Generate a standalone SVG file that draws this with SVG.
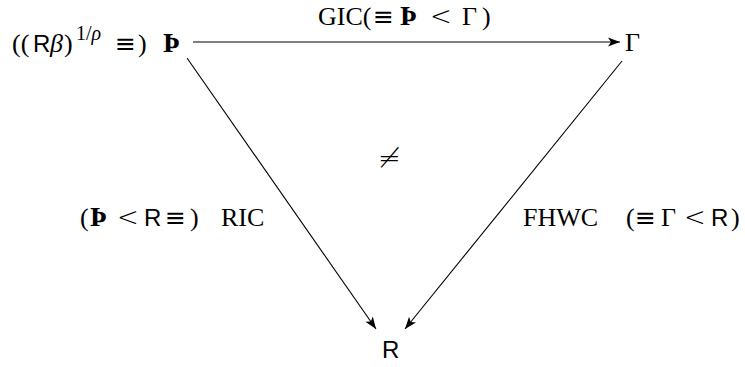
<svg xmlns="http://www.w3.org/2000/svg" width="745" height="367" viewBox="0 0 745 367">
<style>
.s{font-family:"Liberation Serif","DejaVu Serif",serif;font-size:26px;fill:#000}
.ss{font-family:"Liberation Sans","DejaVu Sans",sans-serif;font-size:24px}
.m{font-family:"DejaVu Sans ExtraLight","DejaVu Sans",sans-serif;font-weight:200;font-size:26px}
.e{font-family:"DejaVu Sans",sans-serif;font-size:25px}
.b{font-weight:bold;font-size:28px}
.i{font-style:italic}
.sup{font-size:20px}
.edge{stroke:#000;stroke-width:1.1;fill:none;marker-end:url(#ah)}
</style>
<defs>
<marker id="ah" markerUnits="userSpaceOnUse" markerWidth="16" markerHeight="12" viewBox="-13 -6 14 12" refX="0" refY="0" orient="auto">
<path d="M0,0 L-12,-4.5 L-9,0 L-12,4.5 Z" fill="#000"/>
</marker>
</defs>
<g id="connectors">
<line class="edge" x1="193" y1="42" x2="620" y2="42"/>
<line class="edge" x1="187" y1="58" x2="376" y2="329"/>
<line class="edge" x1="622" y1="61" x2="405" y2="329"/>
</g>
<g id="node-thorn">
<text class="s" y="52"><tspan x="12">((</tspan><tspan class="ss" x="33">R</tspan><tspan class="i" x="50">β</tspan><tspan x="64">)</tspan><tspan class="sup" x="76" dy="-12">1/</tspan><tspan class="sup i">ρ</tspan><tspan class="e" x="115" dy="12">≡</tspan><tspan x="138">)</tspan></text>
<text class="s b" x="163" y="52">Þ</text>
</g>
<g id="node-gamma">
<text class="s" x="625" y="51">Γ</text>
</g>
<g id="node-r">
<text class="s ss" x="382" y="358">R</text>
</g>
<g id="label-gic">
<text class="s" y="25"><tspan x="318">GIC(</tspan><tspan class="e" x="373">≡</tspan><tspan class="b" x="400">Þ</tspan><tspan class="m" x="430">&lt;</tspan><tspan x="462">Γ</tspan><tspan x="482">)</tspan></text>
</g>
<g id="label-ric">
<text class="s" y="226"><tspan x="80">(</tspan><tspan class="b" x="90">Þ</tspan><tspan class="m" x="117">&lt;</tspan><tspan class="ss" x="144">R</tspan><tspan class="e" x="165">≡</tspan><tspan x="190">)</tspan><tspan x="221">RIC</tspan></text>
</g>
<g id="label-fhwc">
<text class="s" x="523" y="226"><tspan>FHWC</tspan><tspan x="626">(</tspan><tspan class="e" x="635">≡</tspan><tspan x="661">Γ</tspan><tspan class="m" x="684">&lt;</tspan><tspan class="ss" x="711">R</tspan><tspan x="731">)</tspan></text>
</g>
<g id="label-neq">
<text class="m" x="378" y="167" style="font-size:27px">≠</text>
</g>
</svg>
